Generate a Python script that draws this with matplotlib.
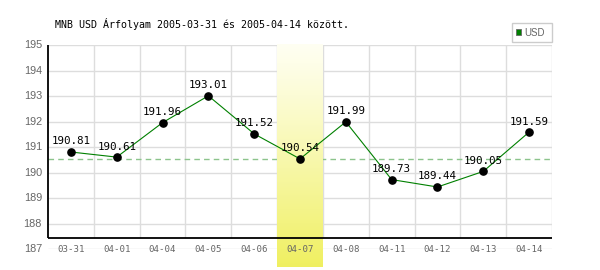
import matplotlib.pyplot as plt
import numpy as np

dates = ["03-31", "04-01", "04-04", "04-05", "04-06", "04-07",
         "04-08", "04-11", "04-12", "04-13", "04-14"]
usd = [190.81, 190.61, 191.96, 193.01, 191.52, 190.54,
       191.99, 189.73, 189.44, 190.05, 191.59]
highlight = 5
yticks = [187, 188, 189, 190, 191, 192, 193, 194, 195]

fig = plt.figure(figsize=(6, 2.7), dpi=100)
ax = fig.add_axes([48 / 600, 20.7 / 270, 504 / 600, 204.3 / 270])
ax.set_xlim(-0.5, len(dates) - 0.5)
ax.set_ylim(187, 195)
for s in ax.spines.values():
    s.set_visible(False)
ax.set_xticks([])
ax.set_yticks([])

axis_y = 187 + 11.3 / 25.5
grid_c = "#dddddd"

# grid
ax.hlines(yticks, -0.5, len(dates) - 0.5, color=grid_c, lw=1, zorder=1)
ax.vlines(np.arange(len(dates)) + 0.5, axis_y, 195, color=grid_c, lw=1, zorder=1)

# reference line at highlighted day
ax.axhline(usd[highlight], color="#8cc48c", lw=1, ls=(0, (4, 3)), zorder=2)

# highlighted band with gradient
grad = np.linspace(0, 1, 256).reshape(-1, 1)
top = np.array([1.0, 1.0, 0.95])
bot = np.array([0.94, 0.94, 0.38])
img = top + (bot - top) * grad[..., None] ** 1.1
img = img.reshape(256, 1, 3)
ax.imshow(img, extent=(highlight - 0.5, highlight + 0.5, 187 - 18 / 25.5, 195),
          aspect="auto", origin="upper", zorder=3, clip_on=False)
ax.set_xlim(-0.5, len(dates) - 0.5)
ax.set_ylim(187, 195)

# axes lines
ax.plot([-0.5, -0.5], [axis_y, 195], color="black", lw=1.3, zorder=4, clip_on=False,
        solid_capstyle="butt")
ax.plot([-0.5, len(dates) - 0.5], [axis_y, axis_y], color="black", lw=1.3, zorder=4,
        clip_on=False, solid_capstyle="butt")

# data
x = np.arange(len(dates))
ax.plot(x, usd, color="#008000", lw=0.8, zorder=5)
ax.plot(x, usd, "o", color="black", ms=5.2, zorder=6)
for xi, v in zip(x, usd):
    ax.annotate(f"{v:.2f}", (xi, v), xytext=(0, 4), textcoords="offset points",
                ha="center", va="bottom", fontsize=7.8, family="DejaVu Sans Mono",
                color="black", zorder=7)

# tick labels
for xi, d in zip(x, dates):
    ax.text(xi, 187, d, ha="center", va="center", fontsize=6.6,
            family="DejaVu Sans Mono", color="#666666", zorder=7)
for t in yticks:
    ax.text(-0.5 - 6 / 45.8, t, str(t), ha="right", va="center", fontsize=7.8,
            family="Liberation Sans", color="#666666", clip_on=False)

# title
fig.text(55 / 600, 1 - 28 / 270, "MNB USD Árfolyam 2005-03-31 és 2005-04-14 között.",
         fontsize=7.2, family="DejaVu Sans Mono", color="black", va="baseline")

# legend
fig.patches.append(plt.Rectangle((511.7 / 600, 1 - 42.3 / 270), 40.6 / 600, 19.6 / 270,
                                 transform=fig.transFigure, facecolor="white",
                                 edgecolor="#cccccc", lw=1))
fig.patches.append(plt.Rectangle((515.7 / 600, 1 - 35.3 / 270), 5.6 / 600, 6 / 270,
                                 transform=fig.transFigure, facecolor="#008000",
                                 edgecolor="#666666", lw=0.6))
fig.text(524 / 600, 1 - 32.5 / 270, "USD", fontsize=7, family="Liberation Sans",
         color="#666666", va="center")

fig.savefig("out.png", dpi=100)
